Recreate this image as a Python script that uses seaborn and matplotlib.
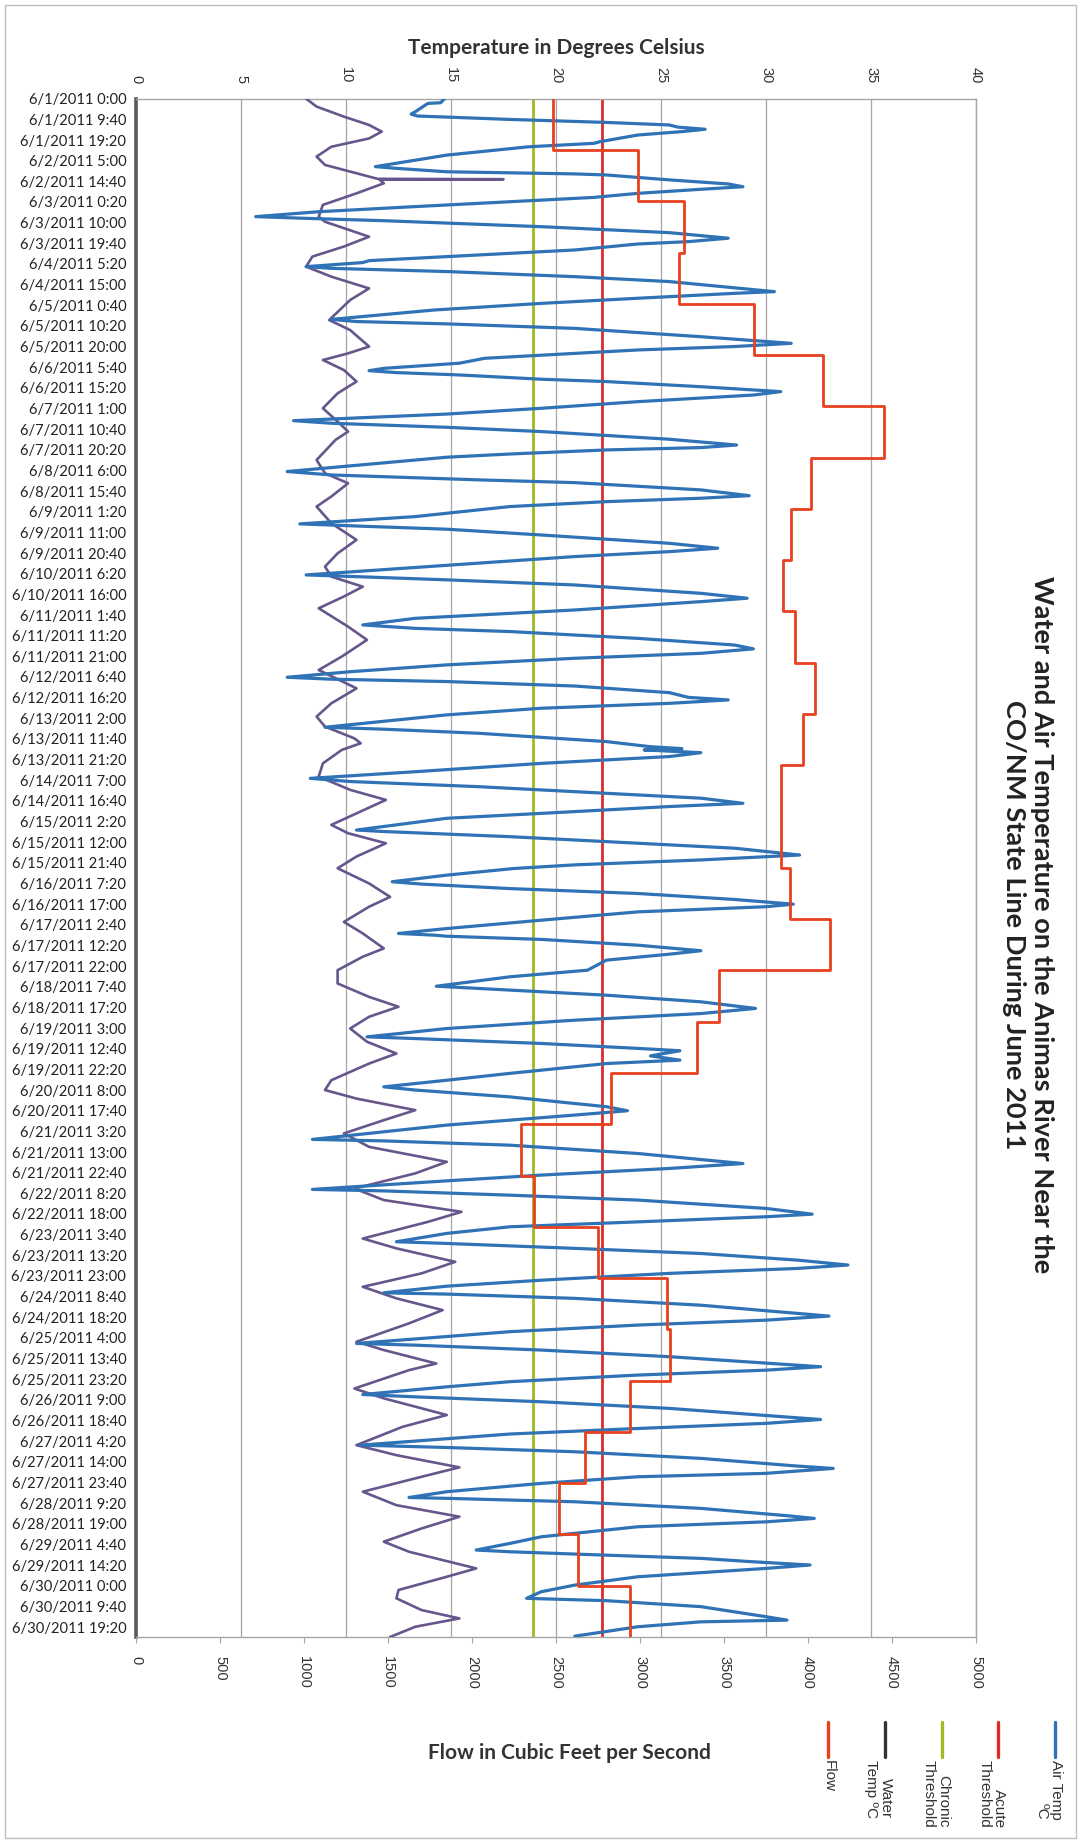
import numpy as np
import pandas as pd
import matplotlib
matplotlib.use("Agg")
import matplotlib.pyplot as plt
import seaborn as sns
from matplotlib.lines import Line2D
from matplotlib.patches import Rectangle

# --- data (hours since 6/1/2011 0:00) ---
air_hours = [
    0, 1.9, 2.2, 6.1, 7.2, 8.1, 9.7, 11.1, 12.3, 13.3, 14.3, 15.4, 17.0, 20.1, 20.9, 22.5,
    26.4, 30.2, 31.8, 32.6, 34.2, 35.2, 35.7, 38.0, 39.9, 41.2, 42.4, 44.3, 46.2,
    48.2, 50.5, 52.9, 55.2, 56.0, 57.1, 59.9, 62.7, 65.3, 66.9, 68.0, 70.8,
    73.9, 75.8, 76.7, 78.6, 79.4, 80.9, 83.3, 85.6, 89.1, 90.3, 91.1, 93.4, 95.8,
    98.9, 103.3, 104.3, 105.4, 107.5, 111.4, 114.5, 116.0, 117.6, 119.2,
    121.5, 123.8, 126.2, 127.3, 128.2, 129.3, 131.3, 132.4, 134.8, 137.1, 138.7, 141.8,
    144.9, 147.6, 150.7, 151.9, 153.8, 155.8, 159.4, 162.1, 163.3, 164.4, 166.3, 167.8,
    174.5, 176.1, 178.4, 179.7, 183.1, 185.8, 187.0, 188.6, 190.9,
    195.6, 199.0, 200.0, 201.5, 204.2, 208.1, 210.4, 212.0, 214.3,
    217.4, 222.9, 223.7, 225.2, 227.6, 231.5, 233.8, 235.4, 239.3,
    242.4, 243.2, 246.3, 247.9, 249.4, 252.6, 255.7, 257.5, 259.6, 261.9,
    265.0, 268.2, 270.8, 271.7, 272.8, 274.9, 278.0, 280.2, 281.4, 283.0, 285.3,
    288.4, 294.2, 295.1, 297.0, 300.9, 303.3, 304.2, 304.8, 306.1, 307.9, 311.1,
    315.0, 318.1, 319.6, 322.0, 325.1, 327.4, 329.8, 331.3, 334.5,
    336.8, 342.3, 343.0, 345.4, 348.5, 350.8, 354.0, 356.3, 358.6,
    360.3, 363.4, 366.5, 367.6, 369.7, 372.0, 374.8, 377.0, 378.2, 380.6,
    384.5, 388.4, 390.7, 391.5, 392.0, 393.5, 396.2, 398.8, 400.4, 403.2, 407.9,
    411.0, 415.4, 417.2, 419.6, 422.7, 425.8, 428.2, 431.3,
    435.2, 439.1, 439.9, 442.2, 444.5, 445.6, 448.0, 450.0, 451.6, 456.2,
    459.4, 462.5, 464.0, 467.2, 471.8, 473.7, 475.7, 480.4,
    487.1, 487.8, 489.8, 493.7, 498.4, 500.7, 503.8,
    506.5, 510.5, 511.2, 513.2, 515.5, 519.4, 522.1, 523.3, 525.7,
    528.0, 531.1, 535.0, 535.8, 538.1, 540.5, 543.6, 545.9, 547.5, 549.8,
    553.0, 555.8, 558.9, 559.5, 561.5, 564.7, 569.8, 571.7, 574.0,
    577.1, 582.6, 583.4, 585.7, 588.8, 593.5, 595.1, 597.4,
    600.5, 602.9, 606.5, 607.6, 609.9, 613.0, 618.2, 620.0, 622.4,
    625.0, 630.2, 631.3, 633.3, 636.4, 640.0, 641.1, 643.4, 645.0,
    648.1, 652.0, 654.7, 655.1, 656.7, 659.8, 663.4, 664.5, 666.1, 668.4,
    673.1, 676.2, 679.3, 680.1, 681.7, 683.2, 684.8, 686.3, 687.9, 691.8,
    695.7, 698.8, 701.9, 703.0, 705.8, 710.5, 712.1, 712.9, 715.2, 719.6,
]
air_temp = [
    14.7, 14.5, 13.9, 13.3, 13.1, 13.4, 17.8, 22.4, 25.4, 25.8, 27.1, 26.0, 23.9, 22.1, 21.8, 18.7,
    14.8, 12.4, 11.4, 12.4, 14.8, 20.9, 22.4, 25.4, 28.2, 28.9, 26.9, 23.9, 21.8,
    17.8, 13.3, 8.7, 5.7, 8.1, 11.8, 19.3, 25.4, 28.2, 26.3, 23.9, 20.9,
    14.8, 11.1, 10.8, 8.1, 9.3, 14.8, 20.9, 25.4, 29.1, 30.4, 28.5, 23.9, 19.3,
    14.2, 9.3, 10.5, 14.8, 20.9, 26.9, 31.2, 28.5, 23.9, 20.9,
    16.6, 15.4, 11.8, 11.1, 12.4, 15.4, 19.3, 22.4, 26.9, 30.7, 29.4, 23.9,
    19.3, 14.8, 7.5, 9.3, 14.8, 19.3, 25.4, 28.6, 26.9, 22.4, 17.8, 14.8,
    7.2, 9.3, 16.3, 20.9, 26.9, 29.2, 26.9, 22.4, 17.8,
    13.3, 7.8, 10.5, 14.8, 19.3, 25.4, 27.7, 25.4, 20.9,
    16.3, 8.1, 10.5, 14.8, 20.9, 26.9, 29.1, 26.9, 20.9,
    14.8, 13.3, 10.8, 13.3, 17.8, 23.9, 28.5, 29.4, 26.9, 20.9,
    14.8, 10.2, 7.2, 9.3, 14.8, 20.9, 25.4, 26.3, 28.2, 25.4, 19.3,
    14.8, 9.0, 11.8, 16.3, 22.4, 24.5, 26.0, 24.2, 26.9, 25.4, 19.3,
    13.3, 8.3, 10.2, 16.3, 22.4, 26.9, 28.9, 25.4, 19.3,
    14.8, 10.5, 11.8, 17.8, 23.9, 28.5, 31.6, 26.9, 20.9,
    18.0, 14.8, 12.2, 13.6, 17.8, 23.9, 28.5, 31.3, 30.0, 23.9,
    19.3, 14.8, 12.5, 14.2, 14.8, 19.3, 23.9, 26.9, 25.4, 22.4, 21.5,
    17.8, 14.3, 17.8, 22.4, 26.9, 29.5, 26.9, 20.9,
    14.8, 11.0, 13.3, 19.3, 23.9, 25.9, 24.5, 25.9, 22.4, 17.8,
    14.8, 11.8, 13.3, 17.8, 22.4, 23.4, 20.9, 14.8,
    8.4, 11.8, 17.8, 23.9, 28.9, 25.4, 19.3,
    14.8, 8.4, 11.8, 17.8, 23.9, 30.0, 32.2, 30.0, 23.9,
    17.8, 14.8, 12.4, 14.8, 20.9, 26.9, 31.5, 33.9, 31.5, 25.4,
    19.3, 14.8, 11.8, 14.8, 20.9, 26.9, 33.0, 30.0, 23.9,
    17.8, 10.5, 13.3, 19.3, 25.4, 32.6, 30.0, 23.9,
    17.8, 14.8, 10.8, 13.3, 19.3, 25.4, 32.6, 30.0, 23.9,
    17.8, 10.7, 14.8, 20.9, 26.9, 31.5, 33.2, 30.0, 23.9,
    19.3, 14.8, 13.0, 14.8, 20.9, 26.9, 31.2, 32.3, 30.0, 23.9,
    19.3, 17.8, 16.2, 17.8, 22.4, 26.9, 29.4, 32.1, 30.0, 23.9,
    20.9, 19.3, 18.6, 22.4, 26.9, 30.0, 31.0, 26.9, 23.9, 20.9,
]

water_hours = [
    0, 3.7, 8.4, 12.3, 15.4, 18.6, 22.5, 27.1, 31.0, 34.9, 37.5, 37.7, 37.9, 39.6,
    44.3, 49.7, 55.2, 57.6, 64.6, 69.2, 73.9, 78.6, 83.3, 88.8, 94.2, 103.6, 108.3,
    116.0, 119.2, 122.3, 127.0, 132.4, 137.9, 144.9, 151.1, 155.8, 159.7, 169.1,
    175.3, 180.0, 186.2, 190.9, 198.7, 206.5, 212.8, 219.0, 223.7, 228.4, 233.0,
    238.5, 247.1, 253.3, 261.1, 267.4, 276.0, 283.0, 289.2, 293.9, 299.4, 301.7,
    304.8, 311.1, 317.3, 323.5, 328.2, 334.5, 339.9, 343.8, 348.5, 354.7, 360.2,
    367.3, 373.6, 378.2, 385.3, 390.7, 397.7, 401.6, 407.9, 414.1, 420.4, 425.0,
    429.7, 435.2, 441.4, 446.9, 451.6, 459.4, 464.0, 468.0, 473.4, 478.1, 484.3,
    490.6, 497.6, 503.0, 510.1, 515.5, 521.0, 525.7, 533.5, 538.1, 544.4, 549.8,
    556.1, 561.5, 567.0, 573.2, 581.8, 585.7, 592.0, 595.1, 603.7, 608.3, 616.1,
    621.6, 630.2, 634.9, 640.6, 645.0, 652.0, 658.3, 663.7, 669.2, 675.4, 680.1,
    687.9, 691.8, 698.0, 701.9, 707.4, 711.3, 715.2, 720.0,
]
water_temp = [
    8.1, 8.6, 9.9, 11.1, 11.7, 11.1, 9.3, 8.6, 9.0, 10.5, 11.5, 17.5, 11.6, 11.8,
    10.5, 8.9, 8.7, 9.0, 11.1, 9.9, 8.4, 8.1, 9.3, 11.1, 10.2, 9.2, 10.2,
    11.1, 10.1, 8.9, 9.9, 10.5, 9.6, 8.9, 9.6, 10.1, 9.5, 8.6,
    9.0, 10.1, 9.3, 8.6, 9.3, 10.5, 9.6, 9.0, 9.3, 10.8, 9.9,
    8.7, 10.1, 11.0, 9.8, 8.7, 10.5, 9.3, 8.6, 9.0, 10.4, 10.7,
    9.8, 8.9, 8.7, 10.2, 11.9, 10.5, 9.3, 10.1, 11.9, 10.5, 9.6,
    11.1, 12.1, 11.1, 9.9, 10.8, 11.8, 10.8, 9.6, 9.6, 11.1, 12.5,
    11.1, 10.2, 11.0, 12.4, 11.1, 9.3, 9.0, 10.5, 13.3, 11.8, 9.9,
    11.1, 14.8, 13.3, 10.4, 11.8, 15.5, 13.9, 10.8, 12.4, 15.2, 13.6,
    10.8, 12.4, 14.6, 13.0, 10.5, 11.8, 14.3, 13.0, 10.4, 11.8, 14.8,
    12.7, 10.5, 12.4, 15.4, 13.6, 10.8, 12.4, 15.4, 13.6, 11.8, 13.0,
    16.2, 14.8, 12.5, 12.4, 13.6, 15.4, 13.3, 12.1,
]

# daily mean flow (cfs), 6/1 .. 6/30
flow_cfs = [2480, 2990, 3260, 3230, 3680, 4090, 4450, 4020, 3900, 3850,
            3920, 4040, 3970, 3840, 3840, 3890, 4130, 3470, 3340, 2830,
            2290, 2370, 2750, 3160, 3180, 2940, 2670, 2520, 2630, 2940]

acute_threshold = 22.2
chronic_threshold = 18.9

temp_ticks = [0, 5, 10, 15, 20, 25, 30, 35, 40]
flow_ticks = [0, 500, 1000, 1500, 2000, 2500, 3000, 3500, 4000, 4500, 5000]

# category labels every 9:40 like the spreadsheet axis
label_times = pd.date_range("2011-06-01 00:00", "2011-06-30 19:20", freq="580min")
label_hours = [(t - label_times[0]).total_seconds() / 3600 for t in label_times]
date_labels = [f"{t.month}/{t.day}/{t.year} {t.hour}:{t.minute:02d}" for t in label_times]

sns.set_style("white")
plt.rcParams["font.family"] = ["Lato", "DejaVu Sans"]

W, H = 1078, 1841
fig = plt.figure(figsize=(W / 100, H / 100), dpi=100)


def fx(x):
    return x / W


def fy(y):
    return 1 - y / H


left, right, top, bottom = 136, 976, 98.7, 1637
ax = fig.add_axes([fx(left), fy(bottom), fx(right - left), (bottom - top) / H])

air_df = pd.DataFrame({"hours": air_hours, "temp": air_temp})
water_df = pd.DataFrame({"hours": water_hours, "temp": water_temp})

c_air = "#2f72b6"
c_acute = "#df2a2c"
c_chronic = "#9dbb22"
c_water = "#66568c"
c_flow = "#e8411f"

sns.lineplot(data=water_df, x="temp", y="hours", sort=False, estimator=None,
             color=c_water, lw=1.9, ax=ax, zorder=3)
ax.axvline(chronic_threshold, color=c_chronic, lw=2.0, zorder=2)
ax.axvline(acute_threshold, color=c_acute, lw=2.0, zorder=2)
sns.lineplot(data=air_df, x="temp", y="hours", sort=False, estimator=None,
             color=c_air, lw=2.3, ax=ax, zorder=4)

# flow on the second (bottom) scale
ax2 = ax.twiny()
flow_hours = [24 * d for d in range(len(flow_cfs) + 1)]
flow_df = pd.DataFrame({"hours": flow_hours, "flow": flow_cfs + [flow_cfs[-1]]})
sns.lineplot(data=flow_df, x="flow", y="hours", sort=False, estimator=None,
             color=c_flow, lw=2.0, drawstyle="steps-pre", ax=ax2, zorder=5)
ax2.set_xlim(0, 5000)
ax2.set_ylim(720, 0)
ax2.set_xlabel("")
ax2.set_ylabel("")
ax2.xaxis.set_ticks_position("bottom")
ax2.xaxis.set_label_position("bottom")
ax2.set_xticks(flow_ticks)
ax2.set_xticklabels([str(t) for t in flow_ticks], family=["Liberation Sans", "DejaVu Sans"])
ax2.tick_params(axis="x", bottom=True, top=False, labelbottom=True, labeltop=False,
                labelrotation=270, labelsize=10.5, length=4, color="#a6a6a6",
                pad=10, labelcolor="#333333")
for s in ax2.spines.values():
    s.set_visible(False)

# temperature scale on top (after twiny, which moves it)
ax.set_xlim(0, 40)
ax.set_ylim(720, 0)
ax.set_xlabel("")
ax.set_ylabel("")
ax.xaxis.set_ticks_position("top")
ax.set_xticks(temp_ticks)
ax.set_xticklabels([str(t) for t in temp_ticks], family=["Liberation Sans", "DejaVu Sans"])
ax.tick_params(axis="x", top=True, bottom=False, labeltop=True, labelbottom=False,
               labelrotation=270, labelsize=10.5, length=0, pad=11, labelcolor="#333333")
ax.set_yticks(label_hours)
ax.set_yticklabels(date_labels)
ax.tick_params(axis="y", labelsize=10.6, length=3, width=1, color="#595959",
               pad=4, labelcolor="#222222")
ax.grid(axis="x", color="#a6a6a6", lw=0.9)
ax.grid(axis="y", visible=False)
for side in ["top", "right", "bottom"]:
    ax.spines[side].set_color("#a6a6a6")
    ax.spines[side].set_linewidth(1.0)
ax.spines["left"].set_color("#5a5a5a")
ax.spines["left"].set_linewidth(2.6)

# axis titles and chart title
fig.text(fx(556), fy(48), "Temperature in Degrees Celsius", ha="center", va="center",
         fontsize=15, fontweight="bold", color="#333333")
fig.text(fx(569), fy(1753), "Flow in Cubic Feet per Second", ha="center", va="center",
         fontsize=15, fontweight="bold", color="#333333")
fig.text(fx(1028), fy(925),
         "Water and Air Temperature on the Animas River Near the\nCO/NM State Line During June 2011",
         rotation=270, ha="center", va="center", multialignment="center",
         fontsize=19.6, fontweight="bold", color="#222222", linespacing=1.2)

# legend, drawn by hand like the rotated spreadsheet legend
legend_items = [
    ("Air Temp\nºC", c_air, 1055),
    ("Acute\nThreshold", c_acute, 998),
    ("Chronic\nThreshold", c_chronic, 942),
    ("Water\nTemp ºC", "#333333", 885),
    ("Flow", c_flow, 828),
]
for label, color, xpos in legend_items:
    fig.add_artist(Line2D([fx(xpos), fx(xpos)], [fy(1722), fy(1757)],
                          transform=fig.transFigure, color=color, lw=2.4))
    fig.text(fx(xpos + 8), fy(1760), label, rotation=270, ha="right", va="top",
             fontsize=11, color="#333333", family=["Liberation Sans", "DejaVu Sans"],
             linespacing=1.05)

# page border of the scanned sheet
fig.add_artist(Rectangle((fx(5), fy(1838)), fx(1071), (1838 - 5) / H,
                         transform=fig.transFigure, fill=False, ec="#bdbdbd", lw=1.0))

fig.savefig("out.png", dpi=100)
